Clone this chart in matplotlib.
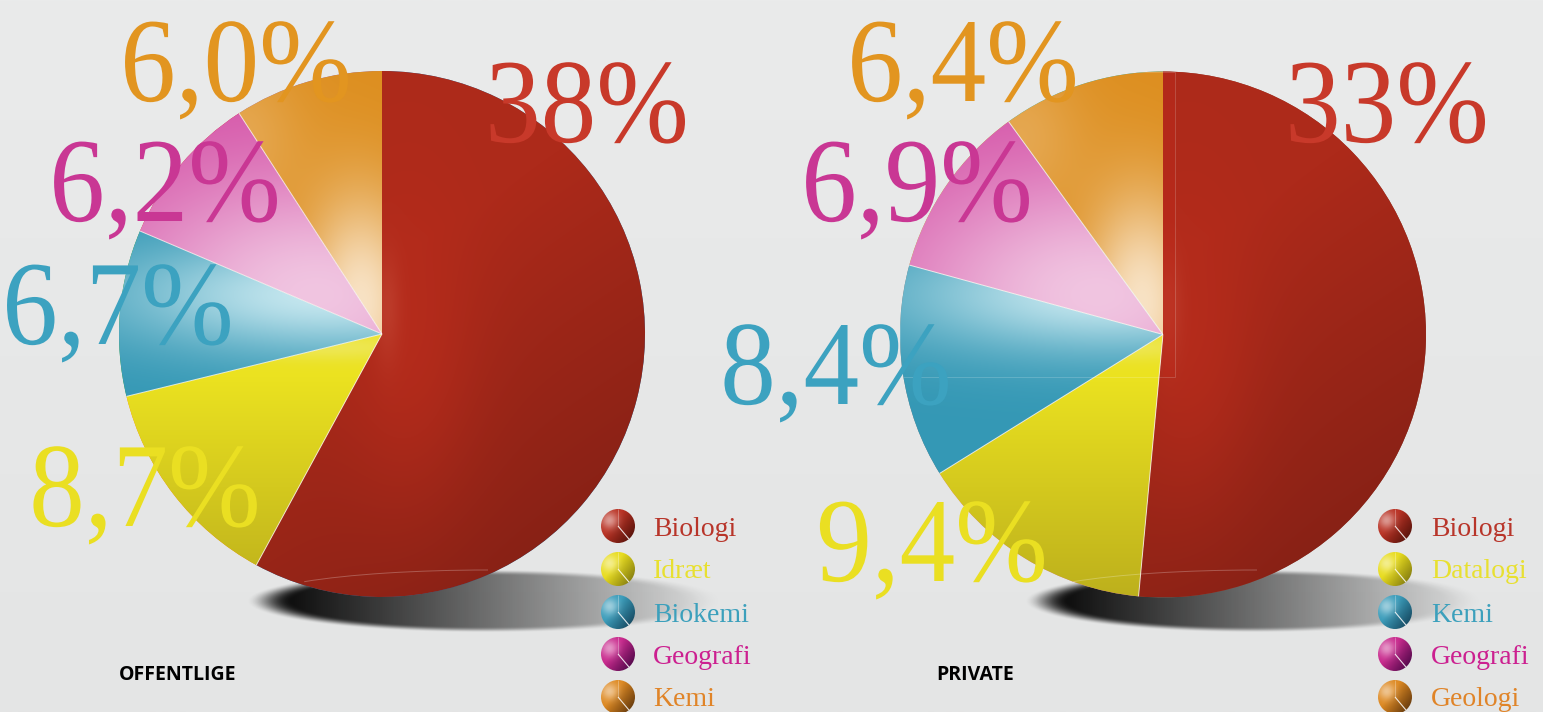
import numpy as np
import matplotlib
matplotlib.use('Agg')
import matplotlib.pyplot as plt
import matplotlib.patheffects as pe
from matplotlib.patches import Arc, Circle, Rectangle
from matplotlib.transforms import Affine2D

# data
left_values = [38, 8.7, 6.7, 6.2, 6.0]
right_values = [33, 9.4, 8.4, 6.9, 6.4]
left_labels = ['38%', '8,7%', '6,7%', '6,2%', '6,0%']
right_labels = ['33%', '9,4%', '8,4%', '6,9%', '6,4%']
left_legend = ['Biologi', 'Idræt', 'Biokemi', 'Geografi', 'Kemi']
right_legend = ['Biologi', 'Datalogi', 'Kemi', 'Geografi', 'Geologi']
left_title = 'OFFENTLIGE'
right_title = 'PRIVATE'
icon_values = [140, 220]

W, H = 1543, 712
R = 263

# layout in pixels, y from the top
left_center = (382, 334)
right_center = (1163, 334.5)
left_label_pos = [(587, 142), (145, 526), (118, 344), (165, 221), (236, 101)]
right_label_pos = [(1387, 142), (932, 581), (836, 404), (917, 221), (963, 101)]
legend_rows = [526, 569, 612, 654, 697]

text_cols = ['#c8392a', '#eadf22', '#3ca2c0', '#c93794', '#e29520']
legend_cols = ['#b8352a', '#e8e030', '#3ca0bc', '#cc2090', '#e08428']
ball_base = ['#b83022', '#e8dc1c', '#3a9cba', '#c8288c', '#dd8820']
ball_dark = ['#5e160e', '#8c8412', '#1a5068', '#5a0c50', '#6e4010']


class Tall(pe.AbstractPathEffect):
    # the original face is a narrow didone, so stretch the serif upward
    def draw_path(self, renderer, gc, tpath, affine, rgbFace=None):
        renderer.draw_path(gc, tpath, Affine2D().scale(1, 1.08) + affine, rgbFace)


def rgb(c):
    return np.array(matplotlib.colors.to_rgb(c))


def glow(u, v, u0, v0, su, sv):
    return np.exp(-((u - u0) / su) ** 2 - ((v - v0) / sv) ** 2)


def mix(a, b, t):
    return rgb(a) * (1 - t[..., None]) + rgb(b) * t[..., None]


def mix_img(img, c, t):
    return img * (1 - t[..., None]) + rgb(c) * t[..., None]


def wedge_colors(i, u, v):
    if i == 0:
        img = mix('#ad2a1a', '#832015', np.clip(0.4 * u - 0.6 * v + 0.15, 0, 1))
        img = mix_img(img, '#b82c1c', 0.8 * glow(u, v, 0.1, 0.0, 0.25, 0.6))
        return mix_img(img, '#d0604c', 0.3 * glow(u, v, 0.02, 0.1, 0.05, 0.2))
    if i == 1:
        img = mix('#ebe220', '#bdb01c', np.clip(-1.2 * v - 0.2, 0, 1))
        return mix_img(img, '#f2eea0', 0.4 * glow(u, v, -0.2, -0.05, 0.4, 0.05))
    if i == 2:
        img = mix('#3498b5', '#3498b5', np.zeros_like(u))
        return mix_img(img, '#cdebf2', 0.95 * glow(u, v, -0.2, 0.15, 0.8, 0.22))
    if i == 3:
        img = mix('#d450a6', '#d450a6', np.zeros_like(u))
        return mix_img(img, '#f2cbe4', 0.95 * glow(u, v, -0.25, 0.15, 0.8, 0.5))
    img = mix('#dd8e1e', '#dd8e1e', np.zeros_like(u))
    return mix_img(img, '#f8e2c4', np.clip(glow(u, v, -0.08, 0.12, 0.22, 0.42)
                                           + 0.3 * glow(u, v, -0.55, 0.75, 0.25, 0.3), 0, 1))


def background(ax):
    g = np.linspace(0, 1, 256)[:, None]
    img = mix('#e4e5e5', '#eaebeb', g)
    ax.imshow(img, extent=(0, W, 0, H), origin='lower', aspect='auto', zorder=0)


def shadow(ax, cx, cy, a, b, core):
    x, y = np.meshgrid(np.linspace(cx - a, cx + a, 500), np.linspace(cy - b, cy + b, 90))
    r2 = ((x - cx) / a) ** 2 + ((y - cy) / b) ** 2
    edge = np.clip((1 - r2) / 0.35, 0, 1)
    edge = edge * edge * (3 - 2 * edge)
    fade = np.clip(1 - (x - core) / (cx + a - core), 0, 1)
    img = np.zeros(x.shape + (4,))
    img[..., 3] = edge * fade
    ax.imshow(img, extent=(cx - a, cx + a, cy - b, cy + b), origin='lower', aspect='auto',
              zorder=1, interpolation='bilinear')


def radial(ax, w, alpha, lw, z):
    # line from the centre of a wedge out along its closing edge
    a = np.deg2rad(w.theta1)
    cx, cy = w.center
    ax.plot([cx, cx + w.r * np.cos(a)], [cy, cy + w.r * np.sin(a)], color='white',
            linewidth=lw, alpha=alpha, zorder=z, solid_capstyle='butt')


def draw_pie(ax, values, center, labels, label_pos, names, title, title_x, ball_x, text_x, shadow_cx):
    cx, cy = center[0], H - center[1]
    wedges, _ = ax.pie(values, center=(cx, cy), radius=R, startangle=90, counterclock=False,
                       wedgeprops={'linewidth': 0}, frame=True)
    for w in wedges:
        w.set_zorder(2)

    x, y = np.meshgrid(np.linspace(cx - R, cx + R, 400), np.linspace(cy - R, cy + R, 400))
    u, v = (x - cx) / R, (y - cy) / R
    for i, w in enumerate(wedges):
        im = ax.imshow(wedge_colors(i, u, v), extent=(cx - R, cx + R, cy - R, cy + R),
                       origin='lower', aspect='auto', zorder=3, interpolation='bilinear')
        im.set_clip_path(w)

    # thin white seams between the slices, none at the top
    for w in wedges[:-1]:
        radial(ax, w, 0.75, 0.7, 4)

    # rim of the shadow ellipse shows through the pie
    rim = Arc((shadow_cx, H - 601), 470, 62, theta1=90, theta2=174,
              edgecolor='white', linewidth=0.7, alpha=0.25, zorder=4)
    ax.add_patch(rim)

    for lab, pos, col in zip(labels, label_pos, text_cols):
        ax.text(pos[0], H - pos[1], lab, color=col, fontsize=80, ha='center', va='baseline',
                family=['Liberation Serif'], zorder=6, path_effects=[Tall()])

    # legend balls with a small pie on them
    bx, by = np.meshgrid(np.linspace(-1, 1, 80), np.linspace(-1, 1, 80))
    r = 17
    for i, (row, name) in enumerate(zip(legend_rows, names)):
        yy = H - row
        img = mix(ball_base[i], ball_dark[i], np.clip(0.6 * bx - 0.45 * by + 0.25, 0, 1))
        img = mix_img(img, '#ffffff', 0.5 * glow(bx, by, -0.5, 0.35, 0.5, 0.5))
        ball = Circle((ball_x, yy), r, transform=ax.transData, facecolor='none', edgecolor='none')
        ax.add_patch(ball)
        im = ax.imshow(img, extent=(ball_x - r, ball_x + r, yy - r, yy + r), origin='lower',
                       aspect='auto', zorder=7, interpolation='bilinear')
        im.set_clip_path(ball)
        icon, _ = ax.pie(icon_values, center=(ball_x, yy), radius=r, startangle=90, counterclock=False,
                         frame=True)
        for s in icon:
            s.set_visible(False)
        radial(ax, icon[0], 0.85, 0.8, 8)
        radial(ax, icon[1], 0.3, 0.7, 8)
        ax.text(text_x, yy, name, color=legend_cols[i], fontsize=20, ha='left', va='center_baseline',
                family=['Liberation Serif'], zorder=9)

    ax.text(title_x, H - 675.5, title, color='black', fontsize=14, fontweight='bold', ha='left',
            va='center', family=['Open Sans'], zorder=9)


fig = plt.figure(figsize=(W / 100, H / 100), dpi=100)
ax = fig.add_axes([0, 0, 1, 1])
background(ax)

shadow(ax, 488, H - 601, 242, 32, 262)
shadow(ax, 1257, H - 601, 233, 32, 1040)

draw_pie(ax, left_values, left_center, left_labels, left_label_pos, left_legend,
         left_title, 119, 618, 653, 488)
draw_pie(ax, right_values, right_center, right_labels, right_label_pos, right_legend,
         right_title, 936, 1395, 1431, 1257)

# stray strip and frame that sits over the right pie
rx, ry = right_center[0], H - right_center[1]
clip = Circle((rx, ry), R, transform=ax.transData, facecolor='none', edgecolor='none')
ax.add_patch(clip)
strip = Rectangle((rx, H - 377), 12, 305, facecolor='#c0281a', alpha=0.35, edgecolor='none', zorder=5)
ax.add_patch(strip)
strip.set_clip_path(clip)
frame_box = Rectangle((rx - R, H - 377), R + 12, 305, facecolor='none', edgecolor='white',
                      linewidth=0.6, alpha=0.2, zorder=5)
ax.add_patch(frame_box)
frame_box.set_clip_path(clip)

ax.set_xlim(0, W)
ax.set_ylim(0, H)
ax.set_aspect('auto')
ax.axis('off')

fig.savefig('out.png', dpi=100)
